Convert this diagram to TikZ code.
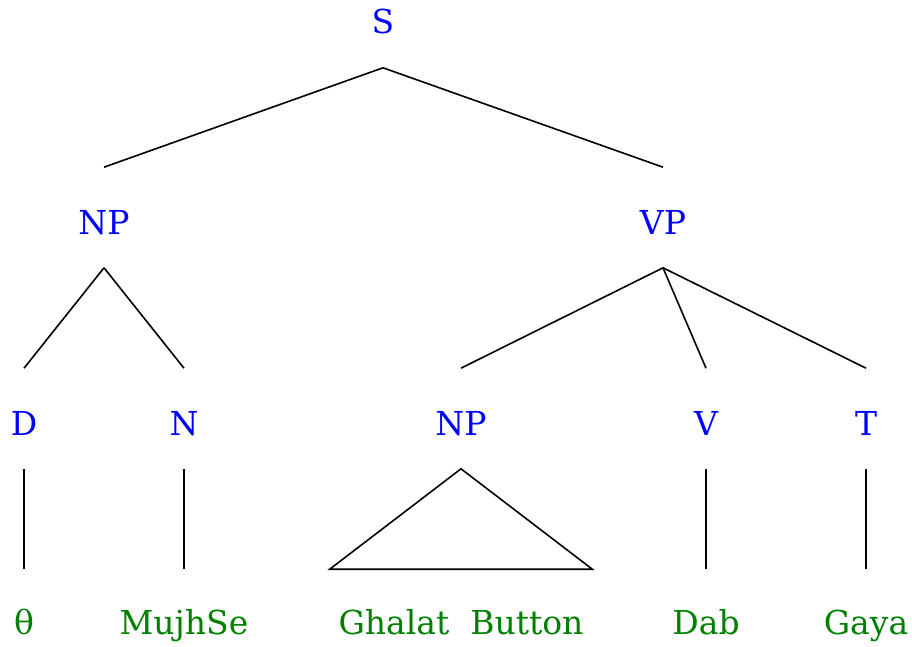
\documentclass[tikz,border=0pt]{standalone}
\usepackage{fontspec}
\setmainfont{DejaVu Serif}
\tikzset{
  cat/.style={text=blue,inner sep=0pt,anchor=base,text height=66pt,text depth=33pt},
  word/.style={text=green!50!black,inner sep=0pt,anchor=base,text height=64pt,text depth=10pt},
}

\begin{document}
\begin{tikzpicture}[x=1pt,y=-1pt,font=\fontsize{33}{40}\selectfont,line width=1.6pt]
    \useasboundingbox (0,0) rectangle (912,647);

    % categories
    \node[cat] (S) at (383,34) {S};
    \node[cat] (NPa) at (104,234) {NP};
    \node[cat] (VP) at (663,234) {VP};
    \node[cat] (D) at (24,435) {D};
    \node[cat] (N) at (184,435) {N};
    \node[cat] (NPb) at (461,435) {NP};
    \node[cat] (V) at (706,435) {V};
    \node[cat] (T) at (866,435) {T};

    % words
    \node[word] (theta) at (24,634) {θ};
    \node[word] (MujhSe) at (184,634) {MujhSe};
    \node[word,minimum width=261pt] (GB) at (461,634) {Ghalat\ \ Button};
    \node[word] (Dab) at (706,634) {Dab};
    \node[word] (Gaya) at (866,634) {Gaya};

    \draw (S.south)--(NPa.north);
    \draw (S.south)--(VP.north);
    \draw (NPa.south)--(D.north);
    \draw (NPa.south)--(N.north);
    \draw (VP.south)--(NPb.north);
    \draw (VP.south)--(V.north);
    \draw (VP.south)--(T.north);

    \draw (D.south)--(theta.north);
    \draw (N.south)--(MujhSe.north);
    \draw (NPb.south)--(GB.north west)--(GB.north east)--cycle;
    \draw (V.south)--(Dab.north);
    \draw (T.south)--(Gaya.north);
\end{tikzpicture}
\end{document}
